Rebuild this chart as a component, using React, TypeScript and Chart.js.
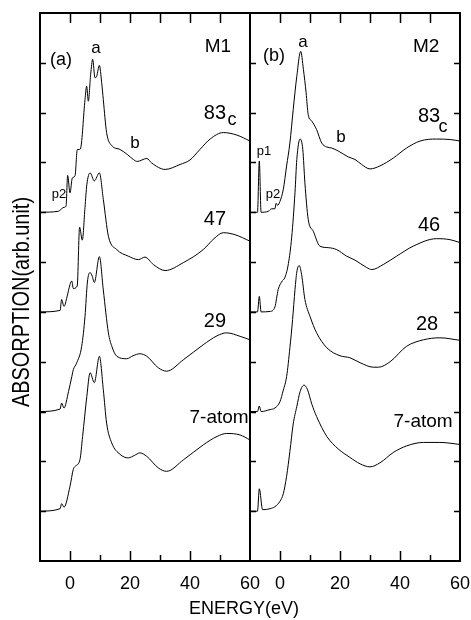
import React, { useEffect, useRef } from "react";
import { Chart, registerables } from "chart.js";

Chart.register(...registerables);

const FONT = '"Liberation Sans", Arial, sans-serif';

// ---- axes ----
const X_MIN = -10;
const X_MAX = 60;
const Y_MIN = 0;
const Y_MAX = 11;
const X_TICK_LABELS = [0, 20, 40, 60];
const X_MINOR_TICKS = [10, 30, 50];
const Y_TICKS = [1, 2, 3, 4, 5, 6, 7, 8, 9, 10];

// ---- panel (a) M1 ----
const A83_E = [-10, -3.9, -2.8, -2.0, -1.33, -0.78, 0, 0.78, 1.67, 2.44, 3.11, 3.56, 5.0, 5.56, 6.11, 6.89, 7.56, 8.33, 8.89, 9.78, 10.56, 11.1, 12.2, 13.9, 16.7, 19.1, 21.1, 22.4, 25.6, 27.2, 31.7, 36.7, 40, 43.3, 46.7, 51.1, 55.6, 60];
const A83_V = [7.0, 7.02, 7.07, 7.1, 7.12, 7.74, 7.39, 7.69, 7.73, 8.26, 8.26, 8.29, 9.26, 9.53, 9.23, 9.77, 10.07, 9.7, 9.73, 9.95, 9.6, 9.26, 8.6, 8.34, 8.26, 8.16, 8.06, 8.02, 8.08, 7.99, 7.86, 7.96, 8.05, 8.26, 8.47, 8.6, 8.55, 8.43];

const A47_E = [-10, -3.3, -2.8, -2.0, -1.0, 0, 0.6, 1.1, 2.4, 3.2, 4.1, 5.0, 5.6, 6.7, 8.1, 9.8, 11.1, 12.8, 15.6, 19.4, 22.8, 25.0, 27.8, 31.7, 37.8, 44.4, 48, 51.1, 55, 60];
const A47_V = [5.0, 5.03, 5.25, 5.11, 5.3, 5.55, 5.62, 5.47, 5.52, 6.7, 6.44, 7.1, 7.55, 7.79, 7.63, 7.79, 7.26, 6.52, 6.25, 6.12, 6.05, 6.1, 5.95, 5.83, 5.99, 6.25, 6.47, 6.59, 6.55, 6.42];

const A29_E = [-10, -3.3, -2.8, -2.0, -0.5, 0.6, 1.1, 2.2, 3.9, 5.0, 5.8, 6.7, 7.4, 8.1, 9.8, 11.1, 12.8, 14, 15.6, 18.9, 21, 23.3, 25.6, 29.4, 32.2, 37.8, 44.4, 49, 52.2, 56.7, 60];
const A29_V = [3.0, 3.05, 3.17, 3.07, 3.4, 3.7, 3.84, 3.97, 4.31, 4.91, 5.6, 5.79, 5.72, 5.59, 6.11, 5.44, 4.58, 4.3, 4.11, 4.06, 4.12, 4.16, 4.11, 3.88, 3.81, 4.04, 4.34, 4.52, 4.58, 4.51, 4.44];

const A7_E = [-10, -3.3, -2.8, -2.0, 0, 1.1, 1.7, 3.3, 4.2, 5.6, 6.7, 8.1, 9.8, 11.1, 12.2, 13.9, 16.7, 19.4, 21.5, 23.3, 25.6, 29.4, 32.2, 37.8, 44.4, 49, 52.2, 56.7, 60];
const A7_V = [1.0, 1.05, 1.15, 1.08, 1.5, 1.84, 1.9, 2.03, 2.5, 3.3, 3.78, 3.58, 4.11, 3.44, 2.77, 2.37, 2.14, 2.07, 2.12, 2.17, 2.1, 1.87, 1.8, 2.03, 2.33, 2.5, 2.56, 2.53, 2.43];

// ---- panel (b) M2 ----
const B83_E = [-10, -7.5, -6.9, -6.3, -3.9, -2.8, -1.7, -1.3, -0.8, 0, 1.1, 2.2, 3.3, 4.4, 5.6, 6.9, 7.8, 8.7, 9.4, 10.6, 12.2, 13.9, 15.6, 17.2, 19.4, 22.8, 25, 27.2, 30, 33.3, 37.8, 42.2, 46.7, 52.2, 56.7, 60];
const B83_V = [7.0, 7.0, 8.03, 7.0, 7.02, 7.07, 7.07, 7.18, 7.14, 7.22, 7.46, 7.93, 8.39, 9.06, 9.73, 10.23, 9.87, 9.4, 8.96, 8.83, 8.66, 8.39, 8.31, 8.29, 8.23, 8.11, 8.06, 7.96, 7.87, 7.93, 8.09, 8.29, 8.43, 8.47, 8.46, 8.43];

const B46_E = [-10, -7.5, -6.9, -6.3, -3.3, -1.7, -0.6, 0.5, 1.7, 2.8, 3.9, 5.0, 5.6, 6.7, 7.6, 8.3, 9.4, 11.1, 13.3, 16.1, 18.9, 22.2, 25, 28.9, 30.6, 34.4, 38.9, 44.4, 52.2, 56.7, 60];
const B46_V = [5.0, 5.0, 5.31, 5.0, 5.01, 5.1, 5.45, 5.6, 5.7, 5.97, 6.5, 7.4, 8.06, 8.47, 8.26, 7.59, 6.86, 6.62, 6.32, 6.29, 6.25, 6.12, 6.04, 5.89, 5.85, 5.95, 6.12, 6.32, 6.47, 6.45, 6.39];

const B28_E = [-10, -7.5, -6.9, -6.3, -3.3, -1.7, 0, 1.1, 2.2, 3.3, 4.2, 5.0, 5.6, 6.4, 7.2, 8.3, 10, 12.2, 15.6, 20, 23.3, 26.7, 31.1, 32.8, 36.7, 42.2, 47.8, 53.3, 60];
const B28_V = [3.0, 3.0, 3.11, 3.0, 3.04, 3.07, 3.2, 3.43, 3.7, 4.28, 4.85, 5.45, 5.8, 5.93, 5.75, 5.25, 4.91, 4.58, 4.28, 4.12, 4.08, 3.98, 3.89, 3.89, 4.0, 4.31, 4.44, 4.48, 4.43];

const B7_E = [-10, -7.5, -6.9, -5.8, -3.3, -1.7, 0, 1.1, 2.2, 3.3, 4.4, 5.6, 6.7, 8.0, 9.1, 10.6, 12.2, 15.6, 19.4, 23.3, 26.7, 30, 33.3, 37.8, 42.2, 47.8, 53.3, 60];
const B7_V = [1.0, 1.0, 1.45, 1.03, 1.05, 1.09, 1.2, 1.35, 1.7, 2.2, 2.75, 3.1, 3.4, 3.53, 3.45, 3.15, 2.9, 2.5, 2.25, 2.08, 1.95, 1.89, 1.97, 2.18, 2.31, 2.38, 2.38, 2.34];

// ---- annotations (text, energy, absorption) ----
type Note = { t: string; x: number; y: number; size: number };
const NOTES_A: Note[] = [
  { t: "(a)", x: -3, y: 10.06, size: 18 },
  { t: "a", x: 8.7, y: 10.3, size: 17 },
  { t: "M1", x: 49.3, y: 10.32, size: 19 },
  { t: "83", x: 48.3, y: 8.99, size: 20 },
  { t: "c", x: 54, y: 8.85, size: 18 },
  { t: "b", x: 21.7, y: 8.39, size: 17 },
  { t: "p2", x: -3.7, y: 7.35, size: 13 },
  { t: "47", x: 48.3, y: 6.86, size: 20 },
  { t: "29", x: 48.3, y: 4.8, size: 20 },
  { t: "7-atom", x: 49.7, y: 2.87, size: 19 },
];
const NOTES_B: Note[] = [
  { t: "(b)", x: -2, y: 10.14, size: 18 },
  { t: "a", x: 7.7, y: 10.42, size: 17 },
  { t: "M2", x: 48.7, y: 10.32, size: 19 },
  { t: "83", x: 49.7, y: 8.93, size: 20 },
  { t: "c", x: 54.3, y: 8.71, size: 18 },
  { t: "b", x: 20.3, y: 8.51, size: 17 },
  { t: "p1", x: -5.3, y: 8.23, size: 13 },
  { t: "p2", x: -2.3, y: 7.35, size: 13 },
  { t: "46", x: 49.7, y: 6.74, size: 20 },
  { t: "28", x: 49, y: 4.74, size: 20 },
  { t: "7-atom", x: 47.7, y: 2.79, size: 19 },
];

const X_TITLE = "ENERGY(eV)";
const Y_TITLE = "ABSORPTION(arb.unit)";

const W = 471;
const H = 620;

function series(e: number[], v: number[]) {
  return e.map((x, i) => ({ x, y: v[i] }));
}

function makeFramePlugin(leftTicks: boolean, rightTicks: boolean, notes: Note[], titles: boolean) {
  return {
    id: "frameAndNotes",
    afterDraw(chart: any) {
      const { ctx, chartArea: ca, scales } = chart;
      const xs = scales.x;
      const ys = scales.y;
      ctx.save();
      ctx.strokeStyle = "#000";
      ctx.lineWidth = 1.5;
      ctx.beginPath();
      const major = X_TICK_LABELS.filter((v) => v < X_MAX);
      for (const v of major) {
        const px = Math.round(xs.getPixelForValue(v)) + 0.5;
        ctx.moveTo(px, ca.bottom);
        ctx.lineTo(px, ca.bottom - 10);
        ctx.moveTo(px, ca.top);
        ctx.lineTo(px, ca.top + 10);
      }
      for (const v of X_MINOR_TICKS) {
        const px = Math.round(xs.getPixelForValue(v)) + 0.5;
        ctx.moveTo(px, ca.bottom);
        ctx.lineTo(px, ca.bottom - 6);
        ctx.moveTo(px, ca.top);
        ctx.lineTo(px, ca.top + 10);
      }
      for (const v of Y_TICKS) {
        const py = Math.round(ys.getPixelForValue(v)) + 0.5;
        if (leftTicks) {
          ctx.moveTo(ca.left, py);
          ctx.lineTo(ca.left + 6, py);
        }
        if (rightTicks) {
          ctx.moveTo(ca.right, py);
          ctx.lineTo(ca.right - 6, py);
        }
      }
      ctx.stroke();
      ctx.lineWidth = 2;
      ctx.strokeRect(ca.left, ca.top, ca.right - ca.left, ca.bottom - ca.top);

      ctx.fillStyle = "#000";
      ctx.textAlign = "center";
      ctx.textBaseline = "middle";
      for (const n of notes) {
        ctx.font = `${n.size}px ${FONT}`;
        ctx.fillText(n.t, xs.getPixelForValue(n.x), ys.getPixelForValue(n.y));
      }

      if (titles) {
        ctx.font = `18px ${FONT}`;
        ctx.fillText(X_TITLE, 244, 609);
        ctx.save();
        ctx.translate(22.5, 302);
        ctx.rotate(-Math.PI / 2);
        ctx.font = `24px ${FONT}`;
        const w = ctx.measureText(Y_TITLE).width;
        ctx.scale(210 / w, 1);
        ctx.fillText(Y_TITLE, 0, 0);
        ctx.restore();
      }
      ctx.restore();
    },
  };
}

function makeConfig(
  data: { x: number; y: number }[][],
  padLeft: number,
  padRight: number,
  plugin: any
) {
  return {
    type: "line" as const,
    data: {
      datasets: data.map((d) => ({
        data: d,
        borderColor: "#000",
        borderWidth: 1,
        pointRadius: 0,
        fill: false,
        cubicInterpolationMode: "monotone" as const,
      })),
    },
    options: {
      responsive: false,
      animation: false as const,
      events: [],
      layout: { padding: { left: padLeft, right: padRight, top: 13, bottom: 0 } },
      plugins: { legend: { display: false }, tooltip: { enabled: false } },
      scales: {
        x: {
          type: "linear" as const,
          min: X_MIN,
          max: X_MAX,
          grid: { display: false, drawTicks: false },
          border: { display: false },
          ticks: {
            color: "#000",
            font: { family: FONT, size: 18 },
            padding: 12,
            maxRotation: 0,
          },
          afterBuildTicks: (s: any) => {
            s.ticks = X_TICK_LABELS.map((v) => ({ value: v }));
          },
          afterFit: (s: any) => {
            s.height = H - 561;
            s.paddingLeft = 0;
            s.paddingRight = 0;
          },
        },
        y: {
          type: "linear" as const,
          min: Y_MIN,
          max: Y_MAX,
          display: false,
        },
      },
    },
    plugins: [plugin],
  };
}

export default function App() {
  const refA = useRef<HTMLCanvasElement>(null);
  const refB = useRef<HTMLCanvasElement>(null);

  useEffect(() => {
    const chartA = new Chart(
      refA.current as HTMLCanvasElement,
      makeConfig(
        [series(A83_E, A83_V), series(A47_E, A47_V), series(A29_E, A29_V), series(A7_E, A7_V)],
        40,
        W - 250,
        makeFramePlugin(true, false, NOTES_A, true)
      ) as any
    );
    const chartB = new Chart(
      refB.current as HTMLCanvasElement,
      makeConfig(
        [series(B83_E, B83_V), series(B46_E, B46_V), series(B28_E, B28_V), series(B7_E, B7_V)],
        250,
        W - 460,
        makeFramePlugin(true, true, NOTES_B, false)
      ) as any
    );
    return () => {
      chartA.destroy();
      chartB.destroy();
    };
  }, []);

  const cs: React.CSSProperties = { position: "absolute", left: 0, top: 0, width: W, height: H };
  return (
    <div style={{ position: "absolute", left: 0, top: 0, width: W, height: H, background: "#fff" }}>
      <canvas ref={refA} width={W} height={H} style={cs} />
      <canvas ref={refB} width={W} height={H} style={cs} />
    </div>
  );
}
